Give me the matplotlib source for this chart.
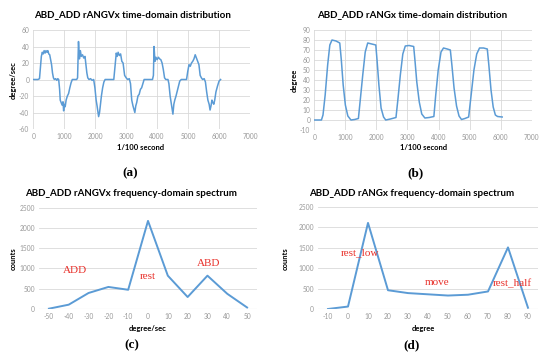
import matplotlib
matplotlib.use("Agg")
import matplotlib.pyplot as plt

plt.rcParams["axes.unicode_minus"] = False

# (a) angular velocity over time, 1/100 s
time_a = [0, 150, 200, 230, 260, 290, 320, 350, 380, 410, 440, 470, 500, 530, 560, 590, 620, 650,
          680, 720, 760, 790, 820, 850, 870, 900, 930, 960, 980, 1000, 1030, 1060, 1100, 1140, 1180,
          1220, 1260, 1300, 1400, 1430, 1460, 1490, 1520, 1550, 1590, 1630, 1670, 1700, 1730, 1760,
          1800, 1850, 1900, 1950, 1990, 2030, 2060, 2090, 2110, 2140, 2170, 2200, 2240, 2280, 2320,
          2400, 2600, 2650, 2680, 2710, 2740, 2780, 2820, 2860, 2900, 2950, 3000, 3050, 3100, 3140,
          3180, 3220, 3250, 3280, 3310, 3340, 3380, 3420, 3460, 3500, 3540, 3580, 3700, 3850, 3880,
          3900, 3930, 3960, 4000, 4040, 4080, 4120, 4160, 4200, 4240, 4280, 4350, 4380, 4420, 4460,
          4490, 4510, 4540, 4570, 4610, 4650, 4690, 4730, 4780, 4900, 4950, 4990, 5030, 5070, 5110,
          5150, 5190, 5230, 5270, 5310, 5350, 5390, 5430, 5470, 5520, 5560, 5600, 5640, 5680, 5710,
          5740, 5770, 5800, 5830, 5860, 5900, 5950, 6000, 6050]
rate_a = [0, 0, 1, 15, 28, 33, 31, 35, 32, 35, 33, 35, 31, 30, 24, 18, 8, 2,
          0, 1, -1, 1, 0, -12, -25, -28, -31, -27, -38, -30, -33, -25, -20, -17, -10,
          -4, 0, 0, 0, 2, 46, 25, 35, 28, 30, 26, 28, 18, 8, 2,
          0, 1, -1, 0, -10, -25, -32, -40, -45, -40, -30, -20, -10, -3, 0,
          0, 0, 20, 32, 28, 33, 29, 31, 22, 20, 5, 2, 0, 1, -5,
          -25, -32, -36, -40, -32, -28, -20, -18, -12, -10, -5, 0, 0, 0, 5,
          40, 22, 27, 24, 27, 25, 24, 20, 12, 2, 0, 0, -5, -20, -30,
          -38, -42, -30, -25, -20, -14, -8, -2, 0, 0, 0, 10, 18, 16, 20,
          22, 25, 30, 26, 22, 18, 5, 2, 0, 1, -3, -15, -25, -30, -37,
          -32, -25, -28, -30, -25, -15, -8, -2, 0]

# (b) angle over time
time_b = [0, 230, 280, 350, 430, 500, 570, 700, 820, 870, 930, 1000, 1080, 1180, 1300, 1420,
          1480, 1560, 1640, 1720, 1850, 1980, 2020, 2080, 2150, 2230, 2300, 2450, 2630,
          2690, 2770, 2850, 2930, 3050, 3200, 3240, 3300, 3380, 3460, 3560, 3700, 3850,
          3910, 3990, 4080, 4160, 4280, 4380, 4430, 4500, 4580, 4660, 4740, 4850, 4970,
          5050, 5140, 5230, 5320, 5450, 5570, 5620, 5690, 5760, 5830, 5900, 6050]
angle_b = [0, 0, 5, 25, 55, 75, 80, 79, 77, 60, 35, 15, 4, 0, 0.5, 1.5,
           20, 45, 68, 77, 76, 75, 60, 35, 12, 3, 0, 1, 2.5,
           20, 45, 66, 74, 74.5, 73.5, 60, 38, 18, 6, 2, 2.5, 3.5,
           25, 50, 68, 72, 71, 70, 55, 32, 14, 4, 0.5, 1.5, 3,
           25, 50, 66, 72, 72, 71, 55, 30, 13, 5, 3.5, 3]

# (c) spectrum of angular velocity
bins_c = [-50, -40, -30, -20, -10, 0, 10, 20, 30, 40, 50]
counts_c = [0, 100, 390, 540, 470, 2180, 820, 290, 820, 370, 30]

# (d) spectrum of angle
bins_d = [-10, 0, 10, 20, 30, 40, 50, 60, 70, 80, 90]
counts_d = [0, 60, 2110, 460, 390, 360, 330, 350, 430, 1510, 30]

W, H = 550, 364
BLUE = "#5b9bd5"
GRID = "#d9d9d9"
TICK = "#999999"
RED = "#e8302a"
SANS = "Lato"
SERIF = "Liberation Serif"

fig = plt.figure(figsize=(5.5, 3.64), dpi=100)


def px_axes(x0, y0, x1, y1):
    # x0,y0 top-left ; x1,y1 bottom-right in pixels
    return fig.add_axes([x0 / W, 1 - y1 / H, (x1 - x0) / W, (y1 - y0) / H])


def style(ax, vgrid):
    for s in ax.spines.values():
        s.set_visible(False)
    ax.grid(True, axis="y", color=GRID, lw=0.6)
    if vgrid:
        ax.grid(True, axis="x", color=GRID, lw=0.6)
    ax.set_axisbelow(True)
    ax.tick_params(length=0, labelsize=4.8, labelcolor=TICK, pad=3)
    for lab in ax.get_xticklabels() + ax.get_yticklabels():
        lab.set_family(SANS)


def ftext(x, y, s, **kw):
    fig.text(x / W, 1 - y / H, s, ha="center", va="center", **kw)


# panel (a)
ax = px_axes(33.3, 30, 250, 129)
ax.plot(time_a, rate_a, color=BLUE, lw=1.1)
ax.set_xlim(0, 7000)
ax.set_ylim(-60, 60)
ax.set_xticks(range(0, 7001, 1000))
ax.set_yticks(range(-60, 61, 20))
style(ax, True)
ftext(132, 15, "ABD_ADD rANGVx time-domain distribution", family=SANS, fontweight="bold", fontsize=7)
ftext(141, 148, "1/100 second", family=SANS, fontweight="bold", fontsize=5.5)
ftext(13, 80, "degree/sec", family=SANS, fontweight="bold", fontsize=5.5, rotation=90)
ftext(130, 173, "(a)", family=SERIF, fontweight="bold", fontsize=9.5)

# panel (b)
ax = px_axes(314.3, 30, 531.7, 130)
ax.plot(time_b, angle_b, color=BLUE, lw=1.1)
ax.set_xlim(0, 7000)
ax.set_ylim(-10, 90)
ax.set_xticks(range(0, 7001, 1000))
ax.set_yticks(range(-10, 91, 10))
style(ax, True)
ftext(412, 15, "ABD_ADD rANGx time-domain distribution", family=SANS, fontweight="bold", fontsize=7)
ftext(424, 148, "1/100 second", family=SANS, fontweight="bold", fontsize=5.5)
ftext(294, 80, "degree", family=SANS, fontweight="bold", fontsize=5.5, rotation=90)
ftext(415, 173, "(b)", family=SERIF, fontweight="bold", fontsize=9.5)

# panel (c)
ax = px_axes(39, 208, 257, 308.7)
ax.plot(bins_c, counts_c, color=BLUE, lw=1.4)
ax.set_xlim(-55, 55)
ax.set_ylim(0, 2500)
ax.set_xticks(bins_c)
ax.set_yticks(range(0, 2501, 500))
style(ax, False)
ax.axhline(0, color=GRID, lw=0.8)
ax.text(-37, 936, "ADD", color=RED, family=SERIF, fontsize=8, ha="center", va="center")
ax.text(0, 787, "rest", color=RED, family=SERIF, fontsize=8, ha="center", va="center")
ax.text(30.8, 1134, "ABD", color=RED, family=SERIF, fontsize=8, ha="center", va="center")
ftext(131, 194, "ABD_ADD rANGVx frequency-domain spectrum", family=SANS, fontweight="bold", fontsize=7)
ftext(148, 329, "degree/sec", family=SANS, fontweight="bold", fontsize=5.5)
ftext(13, 259, "counts", family=SANS, fontweight="bold", fontsize=5.5, rotation=90)
ftext(132, 345, "(c)", family=SERIF, fontweight="bold", fontsize=9.5)

# panel (d)
ax = px_axes(318, 207, 538, 309)
ax.plot(bins_d, counts_d, color=BLUE, lw=1.4)
ax.set_xlim(-15, 95)
ax.set_ylim(0, 2500)
ax.set_xticks(bins_d)
ax.set_yticks(range(0, 2501, 500))
style(ax, False)
ax.axhline(0, color=GRID, lw=0.8)
ax.text(6.1, 1380, "rest_low", color=RED, family=SERIF, fontsize=8, ha="center", va="center")
ax.text(44.6, 645, "move", color=RED, family=SERIF, fontsize=8, ha="center", va="center")
ax.text(82.3, 620, "rest_half", color=RED, family=SERIF, fontsize=8, ha="center", va="center")
ftext(412, 193, "ABD_ADD rANGx frequency-domain spectrum", family=SANS, fontweight="bold", fontsize=7)
ftext(423, 329, "degree", family=SANS, fontweight="bold", fontsize=5.5)
ftext(285, 259, "counts", family=SANS, fontweight="bold", fontsize=5.5, rotation=90)
ftext(412, 345, "(d)", family=SERIF, fontweight="bold", fontsize=9.5)

fig.savefig("out.png", dpi=100)
